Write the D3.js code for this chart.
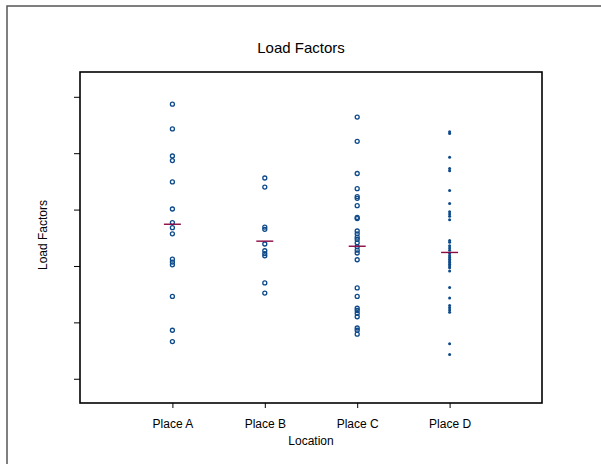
<!DOCTYPE html>
<html>
<head>
<meta charset="utf-8">
<script src="https://cdn.jsdelivr.net/npm/d3@7"></script>
<style>
  body { margin: 0; background: #fff; }
  text { font-family: "Liberation Sans", Arial, sans-serif; }
</style>
</head>
<body>
<script>
// values
var locations = ["Place A", "Place B", "Place C", "Place D"];

var placeA = [0.787, 0.743, 0.695, 0.687, 0.649, 0.601, 0.577, 0.568, 0.557,
              0.512, 0.507, 0.502, 0.446, 0.386, 0.366];
var placeB = [0.656, 0.640, 0.569, 0.565, 0.539, 0.527, 0.522, 0.518, 0.470, 0.452];
var placeC = [0.764, 0.721, 0.664, 0.637, 0.623, 0.620, 0.607, 0.586, 0.584,
              0.562, 0.557, 0.551, 0.547, 0.541, 0.534, 0.528, 0.523, 0.511,
              0.461, 0.446, 0.425, 0.421, 0.416, 0.410, 0.390, 0.386, 0.379];
var placeD = [0.738, 0.735, 0.693, 0.673, 0.669, 0.634, 0.611, 0.596, 0.592,
              0.588, 0.582, 0.545, 0.542, 0.536, 0.532, 0.528, 0.522, 0.518,
              0.515, 0.512, 0.509, 0.506, 0.503, 0.500, 0.497, 0.491, 0.462,
              0.443, 0.430, 0.426, 0.422, 0.418, 0.362, 0.343];
var means = [0.574, 0.544, 0.535, 0.524];

var yTicks = [0.3, 0.4, 0.5, 0.6, 0.7, 0.8];

var series = [placeA, placeB, placeC, placeD];

var width = 601, height = 464;
var margin = {left: 80, right: 59, top: 72, bottom: 61};

var svg = d3.select("body").append("svg")
    .attr("width", width)
    .attr("height", height);

// outer frame
svg.append("rect")
    .attr("x", 7).attr("y", 6)
    .attr("width", 600).attr("height", 470)
    .attr("fill", "none")
    .attr("stroke", "#555")
    .attr("stroke-width", 1.5);

var x = d3.scalePoint()
    .domain(["", ...locations, " "])
    .range([margin.left, width - margin.right]);

var y = d3.scaleLinear()
    .domain([0.257, 0.844])
    .range([height - margin.bottom, margin.top]);

// axes
var xAxis = svg.append("g")
    .attr("transform", "translate(0," + (height - margin.bottom) + ")")
    .call(d3.axisBottom(x).tickValues(locations).tickSize(5).tickSizeOuter(0).tickPadding(11));
xAxis.select(".domain").remove();
xAxis.selectAll("text").attr("font-size", 12).attr("fill", "#000");
xAxis.selectAll("line").attr("stroke", "#000");

var yAxis = svg.append("g")
    .attr("transform", "translate(" + margin.left + ",0)")
    .call(d3.axisLeft(y).tickValues(yTicks).tickSize(6).tickFormat(""));
yAxis.select(".domain").remove();
yAxis.selectAll("line").attr("stroke", "#000");

// plot box
svg.append("rect")
    .attr("x", margin.left)
    .attr("y", margin.top)
    .attr("width", width - margin.left - margin.right)
    .attr("height", height - margin.top - margin.bottom)
    .attr("fill", "none")
    .attr("stroke", "#000")
    .attr("stroke-width", 1.6);

// points
series.forEach(function(vals, i) {
    var loc = locations[i];
    var g = svg.append("g");
    if (i < 3) {
        g.selectAll("circle")
            .data(vals)
            .enter().append("circle")
            .attr("cx", x(loc))
            .attr("cy", d => y(d))
            .attr("r", 2)
            .attr("fill", "none")
            .attr("stroke", "#0d4a8a")
            .attr("stroke-width", 1.3);
    } else {
        g.selectAll("circle")
            .data(vals)
            .enter().append("circle")
            .attr("cx", x(loc))
            .attr("cy", d => y(d))
            .attr("r", 1.5)
            .attr("fill", "#0d4a8a");
    }
});

// mean lines
svg.append("g").selectAll("line")
    .data(means)
    .enter().append("line")
    .attr("x1", (d, i) => x(locations[i]) - 8.5)
    .attr("x2", (d, i) => x(locations[i]) + 8.5)
    .attr("y1", d => y(d))
    .attr("y2", d => y(d))
    .attr("stroke", "#8a0a44")
    .attr("stroke-width", 1.4);

// titles
svg.append("text")
    .attr("x", 301).attr("y", 53)
    .attr("text-anchor", "middle")
    .attr("font-size", 15)
    .text("Load Factors");

svg.append("text")
    .attr("x", (margin.left + width - margin.right) / 2)
    .attr("y", 445)
    .attr("text-anchor", "middle")
    .attr("font-size", 12)
    .text("Location");

svg.append("text")
    .attr("transform", "translate(47,235) rotate(-90)")
    .attr("text-anchor", "middle")
    .attr("font-size", 12)
    .text("Load Factors");
</script>
</body>
</html>
